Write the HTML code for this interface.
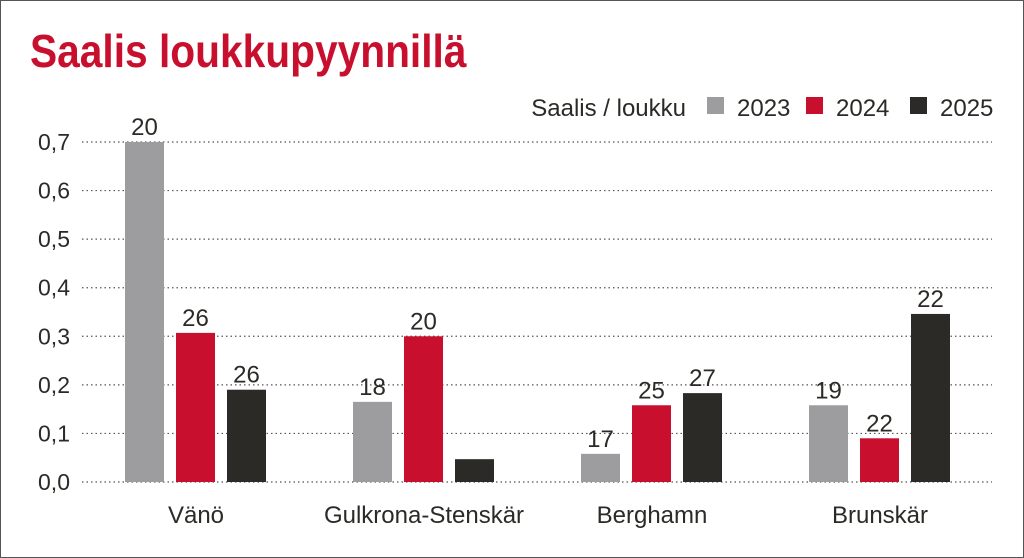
<!DOCTYPE html>
<html><head><meta charset="utf-8"><style>
body{margin:0;background:#fff}
svg{display:block}
text{font-family:"Liberation Sans Narrow","Liberation Sans",sans-serif;fill:#2b2a26}
</style></head><body>
<svg width="1024" height="558" viewBox="0 0 1024 558">
<rect x="0.5" y="0.5" width="1023" height="557" fill="#fff" stroke="#555"/>
<text x="30" y="67" font-size="46" font-weight="bold" style="fill:#c8102e" transform="translate(30 0) scale(0.88 1) translate(-30 0)" textLength="496" lengthAdjust="spacingAndGlyphs">Saalis loukkupyynnillä</text>
<g id="legend">
<text x="686" y="116" font-size="24" text-anchor="end">Saalis / loukku</text>
</g>
<g id="grid"></g><g id="bars"></g>
</svg>
<script>
const categories=["Vänö","Gulkrona-Stenskär","Berghamn","Brunskär"];
const seriesNames=["2023","2024","2025"];
const v2023=[0.70,0.165,0.058,0.158];
const v2024=[0.307,0.30,0.158,0.09];
const v2025=[0.19,0.047,0.183,0.346];
const lab2023=["20","18","17","19"];
const lab2024=["26","20","25","22"];
const lab2025=["26","","27","22"];
const ticks=[0,0.1,0.2,0.3,0.4,0.5,0.6,0.7];
const tickLabels=["0,0","0,1","0,2","0,3","0,4","0,5","0,6","0,7"];
const colors=["#9d9d9f","#c8102e","#2b2a26"];
const NS="http://www.w3.org/2000/svg";
const y=v=>482-v/0.7*340;
const gx=i=>196+i*228;
function mk(t,a,p){const e=document.createElementNS(NS,t);for(const k in a)e.setAttribute(k,a[k]);p.appendChild(e);return e;}
const grid=document.getElementById('grid'),bars=document.getElementById('bars'),leg=document.getElementById('legend');
ticks.forEach((t,i)=>{
 const l=mk('line',{x1:82,x2:992,y1:y(t),y2:y(t),stroke:'#555','stroke-width':1.2,'stroke-dasharray':'1.5 3'},grid);
 
 
 const tx=mk('text',{x:70,y:y(t)+8,'font-size':23,'text-anchor':'end'},grid);tx.textContent=tickLabels[i];
 
 
});
const vals=[v2023,v2024,v2025],labs=[lab2023,lab2024,lab2025];
categories.forEach((c,i)=>{
 vals.forEach((s,j)=>{
  const x=gx(i)-71+j*51;
  const r=mk('rect',{x:x,y:y(s[i]),width:39,height:482-y(s[i]),fill:colors[j]},bars);
  
  
  if(labs[j][i]){const t=mk('text',{x:x+19.5,y:y(s[i])-7,'font-size':24,'text-anchor':'middle'},bars);t.textContent=labs[j][i];
  
  }
 });
 const t=mk('text',{x:gx(i),y:523,'font-size':24,'text-anchor':'middle'},bars);t.textContent=c;
 
 
});
const lx=[707,806,910];
seriesNames.forEach((n,j)=>{
 const r=mk('rect',{x:lx[j],y:97,width:17,height:17,fill:colors[j]},leg);
 
 
 const t=mk('text',{x:lx[j]+30,y:116,'font-size':24},leg);t.textContent=n;
 
 
});
</script>
</body></html>
